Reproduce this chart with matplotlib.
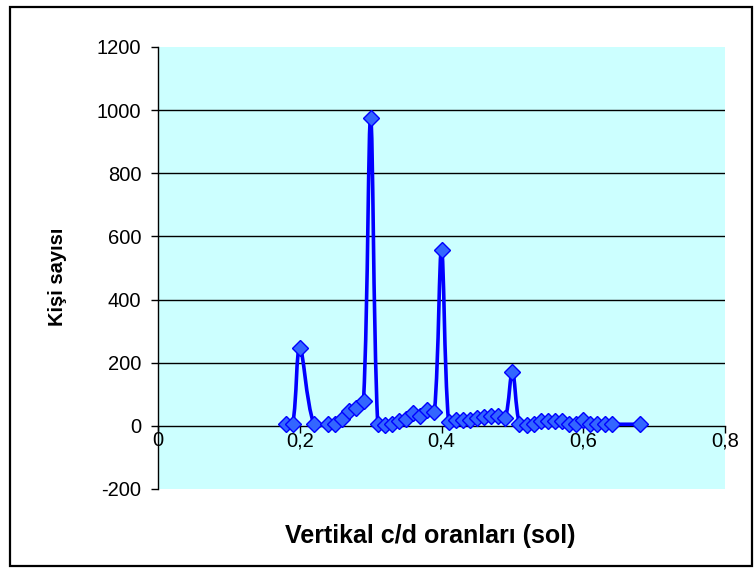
import numpy as np
import matplotlib
matplotlib.use("Agg")
import matplotlib.pyplot as plt
from matplotlib.path import Path
from matplotlib.patches import PathPatch, Rectangle

# c/d ratios and how many people had each ratio
cd_ratio = [0.18, 0.19, 0.20, 0.22, 0.24, 0.25, 0.26, 0.27, 0.28, 0.29,
            0.30, 0.31, 0.32, 0.33, 0.34, 0.35, 0.36, 0.37, 0.38, 0.39,
            0.40, 0.41, 0.42, 0.43, 0.44, 0.45, 0.46, 0.47, 0.48, 0.49,
            0.50, 0.51, 0.52, 0.53, 0.54, 0.55, 0.56, 0.57, 0.58, 0.59,
            0.60, 0.61, 0.62, 0.63, 0.64, 0.68]
person_count = [5, 5, 248, 5, 5, 5, 22, 48, 56, 80,
                975, 6, 4, 5, 16, 21, 41, 31, 49, 43,
                558, 11, 20, 20, 20, 24, 27, 32, 31, 24,
                172, 5, 3, 5, 16, 16, 16, 16, 5, 5,
                19, 5, 5, 5, 5, 5]

x_ticks = [0, 0.2, 0.4, 0.6, 0.8]
x_tick_labels = ["0", "0,2", "0,4", "0,6", "0,8"]
y_ticks = [-200, 0, 200, 400, 600, 800, 1000, 1200]

plt.rcParams['font.family'] = ['Liberation Sans', 'DejaVu Sans']
plt.rcParams['axes.unicode_minus'] = False  # excel shows a plain hyphen


def smooth_path(ax, xs, ys):
    # smoothed line like excel does it, worked out in screen pixels
    # (tangents weighted by chord length so the spikes don't undershoot)
    pts = ax.transData.transform(np.column_stack([xs, ys]))
    n = len(pts)
    verts = [pts[0]]
    codes = [Path.MOVETO]

    def tangent(i):
        a = pts[max(i - 1, 0)]
        b = pts[min(i + 1, n - 1)]
        return b - a

    for i in range(n - 1):
        p1 = pts[i]
        p2 = pts[i + 1]
        d12 = np.hypot(*(p2 - p1))
        d01 = np.hypot(*(p1 - pts[max(i - 1, 0)]))
        d23 = np.hypot(*(pts[min(i + 2, n - 1)] - p2))
        c1 = p1 + tangent(i) * d12 / max(d01 + d12, 1e-9) / 3.0
        c2 = p2 - tangent(i + 1) * d12 / max(d12 + d23, 1e-9) / 3.0
        verts += [c1, c2, p2]
        codes += [Path.CURVE4] * 3
    verts = ax.transData.inverted().transform(np.array(verts))
    return Path(verts, codes)


fig = plt.figure(figsize=(7.56, 5.75), dpi=100)
ax = fig.add_axes([0.209, 0.1496, 0.75, 0.7687])
ax.set_facecolor('#CCFFFF')

ax.set_xlim(0, 0.8)
ax.set_ylim(-200, 1200)

# gridlines, only the inner ones
for v in y_ticks:
    if 0 < v < 1200:
        ax.axhline(v, color='black', linewidth=1.0, zorder=1)

ax.add_patch(PathPatch(smooth_path(ax, cd_ratio, person_count),
                       facecolor='none', edgecolor='#0000FF',
                       linewidth=2.6, zorder=3))
ax.plot(cd_ratio, person_count, linestyle='none', marker='D', markersize=8.5,
        markerfacecolor='#3366FF', markeredgecolor='#0000FF',
        markeredgewidth=1.0, zorder=4)

ax.spines['top'].set_visible(False)
ax.spines['right'].set_visible(False)
ax.spines['bottom'].set_position(('data', 0))
ax.spines['left'].set_linewidth(1.0)
ax.spines['bottom'].set_linewidth(1.0)

ax.set_xticks(x_ticks)
ax.set_xticklabels(x_tick_labels)
ax.set_yticks(y_ticks)
ax.tick_params(axis='both', direction='out', length=5, width=1.0,
               labelsize=14.5, colors='black')
ax.tick_params(axis='x', pad=-1)
ax.tick_params(axis='y', pad=7)

ax.set_ylabel("Kişi sayısı", fontsize=14.5, fontweight='bold')
ax.yaxis.set_label_coords(-0.16, 0.48)
fig.text(0.569, 0.068, "Vertikal c/d oranları (sol)", fontsize=18,
         fontweight='bold', ha='center', va='center')

# border around the whole chart
fig.patches.append(Rectangle((0.013, 0.015), 0.982, 0.973,
                             transform=fig.transFigure, fill=False,
                             edgecolor='black', linewidth=1.6))

fig.savefig("out.png", dpi=100)
